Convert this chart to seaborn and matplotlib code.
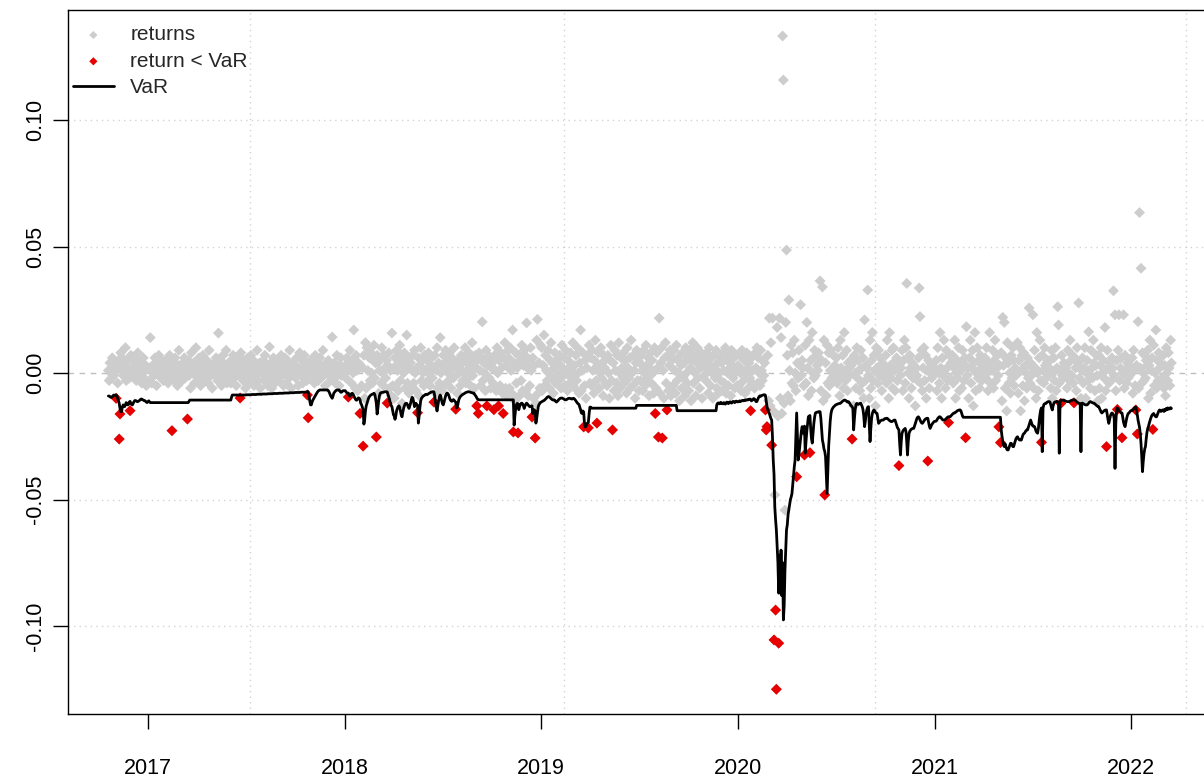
import numpy as np
import pandas as pd
import matplotlib
matplotlib.use("Agg")
import matplotlib.pyplot as plt
import seaborn as sns

# Daily returns and 1-day VaR, in thousandths; one row per month (21 sessions).
ret_2016 = [
    1, -3, 4, 0, -2, 6, 2, -1, 3,
    3, -10, 1, -4, 5, -26.1, -16.2, 8, 2, 6, -1, 4, 0, 10, -3, 2, 5, 1, -2, -14.9, 7,
    2, 6, -1, 3, 0, 5, -3, 1, 8, 2, -1, 4, 1, -4, 0, 6, -2, 1, 3, -5, 2,
]
var_2016 = [
    -9.1, -9.1, -9.3, -9.6, -9.6, -9.4, -9.0, -8.7, -8.8,
    -8.8, -8.7, -9.0, -10.0, -11.0, -12.0, -14.0, -15.3, -15.3, -13.5, -12.6, -13.0, -13.3, -12.5, -11.7, -12.0, -12.6, -12.4, -11.5, -11.2, -12.0,
    -12.4, -12.6, -12.0, -11.4, -10.9, -10.9, -11.0, -11.3, -11.3, -11.1, -10.9, -10.6, -10.3, -10.3, -10.5, -10.7, -10.9, -10.9, -11.2, -11.5, -11.7,
]

ret_2017 = [
    2, -3, 14, 1, -4, 3, 0, -1, 6, 2, -5, 4, 0, 7, -1, 2, -2, 5, 1, -3, 3,
    1, 5, -2, 3, -4, 0, 7, 2, -1, -22.8, 4, 1, -3, 6, 0, 2, -5, 3, 9, -1, 2,
    0, -3, 4, 2, 6, -2, 1, 3, -18.2, 5, -1, 2, -6, 8, 1, 0, 4, -4, 2, 10, -1,
    3, -2, 6, 0, -5, 2, 1, 7, -1, 4, -3, 2, 5, 0, -4, 9, 1, -1, 3, -6, 2,
    2, 4, -1, 6, 0, -3, 15.8, 3, -1, 5, -5, 1, 7, -2, 3, 0, 9, -4, 2, 4, -1,
    3, -4, 5, 0, 7, -2, 1, 4, -5, 2, 6, -1, 3, -9.9, 8, 0, 2, -3, 5, 1, -6,
    4, -2, 6, 1, -4, 2, 7, 0, -1, 5, -5, 2, 3, -1, 9, -3, 1, 4, -6, 2, 0,
    2, 5, -3, 7, 0, -1, 3, -5, 1, 10.3, -2, 4, -6, 2, 6, 0, -4, 1, 5, -1, 3,
    1, -3, 4, 7, -1, 2, -5, 0, 6, 2, -4, 5, 0, -2, 9, 3, -6, 1, 4, -1, 2,
    3, -2, 6, 1, -5, 2, 8, 0, -1, 5, -4, 2, 7, -1, 4, -3, -8.7, -17.7, 3, 1, 5,
    2, -1, 5, 0, -4, 7, 2, -1, 4, -3, 1, 6, -2, 3, 0, 9, -1, 2, -5, 2, 4,
    2, 5, -1, 3, -3, 0, 14.2, 1, -2, 4, -4, 2, 7, -1, 2, -5, 3, 6, -1, 2, 0,
]
var_2017 = [
    -11.0, -11.4, -11.7, -11.7, -11.7, -11.7, -11.7, -11.7, -11.7, -11.7, -11.7, -11.7, -11.7, -11.7, -11.7, -11.7, -11.7, -11.7, -11.7, -11.7, -11.7,
    -11.7, -11.7, -11.7, -11.7, -11.7, -11.7, -11.7, -11.7, -11.7, -11.7, -11.7, -11.7, -11.7, -11.7, -11.7, -11.7, -11.7, -11.7, -11.7, -11.7, -11.7,
    -11.7, -11.7, -11.7, -11.7, -11.7, -11.7, -11.7, -11.7, -11.7, -11.7, -11.2, -10.7, -10.7, -10.7, -10.7, -10.7, -10.7, -10.7, -10.7, -10.7, -10.7,
    -10.7, -10.7, -10.7, -10.7, -10.7, -10.7, -10.7, -10.7, -10.7, -10.7, -10.7, -10.7, -10.7, -10.7, -10.7, -10.7, -10.7, -10.7, -10.7, -10.7, -10.7,
    -10.7, -10.7, -10.7, -10.7, -10.7, -10.7, -10.7, -10.7, -10.7, -10.7, -10.7, -10.7, -10.7, -10.7, -10.7, -10.7, -10.7, -10.7, -10.7, -10.7, -10.7,
    -10.7, -10.7, -9.5, -8.7, -8.7, -8.7, -8.7, -8.7, -8.7, -8.7, -8.7, -8.7, -8.7, -8.7, -8.7, -8.7, -8.7, -8.7, -8.7, -8.7, -8.7,
    -8.6, -8.6, -8.6, -8.6, -8.6, -8.6, -8.6, -8.5, -8.5, -8.5, -8.5, -8.5, -8.5, -8.5, -8.4, -8.4, -8.4, -8.4, -8.4, -8.4, -8.4,
    -8.3, -8.3, -8.3, -8.3, -8.3, -8.3, -8.3, -8.2, -8.2, -8.2, -8.2, -8.2, -8.2, -8.2, -8.1, -8.1, -8.1, -8.1, -8.1, -8.1, -8.1,
    -8.0, -8.0, -8.0, -8.0, -8.0, -8.0, -8.0, -7.9, -7.9, -7.9, -7.9, -7.9, -7.9, -7.9, -7.8, -7.8, -7.8, -7.8, -7.8, -7.8, -7.8,
    -7.7, -7.7, -7.7, -7.7, -7.7, -7.7, -7.7, -7.6, -7.6, -7.6, -7.6, -7.6, -7.6, -7.6, -7.5, -7.5, -7.4, -7.4, -9.0, -11.0, -12.6,
    -12.6, -11.5, -10.7, -10.2, -9.6, -9.1, -8.5, -8.0, -7.5, -7.1, -6.9, -6.7, -6.7, -6.7, -6.7, -6.7, -6.7, -6.7, -6.7, -6.7, -6.7,
    -6.7, -7.0, -7.5, -8.3, -9.0, -9.5, -10.0, -9.2, -8.0, -7.6, -7.2, -6.9, -6.7, -6.7, -6.7, -6.7, -7.2, -7.6, -7.6, -7.3, -7.0,
]

ret_2018 = [
    3, -2, 6, 1, -9.5, 4, 9, 2, -4, 5, 0, 17, 3, -6, 7, 1, -7, 4, 2, -16, 3,
    -5, 2, -28.9, 7, -10, 12, -6, 10, 1, -5, 6, -3, 8, 0, -4, 5, 11, -2, 4, -25.3, 7,
    4, -8, 1, 6, -4, 10, 0, -5, 7, 2, -2, 5, -11.9, 3, 8, -6, 1, -9, 15.8, -5, 2,
    -10, 6, -5, 9, 1, -7, 4, 11, -3, 7, -12, 3, 0, 8, -6, 5, 15, -4, 2, -8, 6,
    4, -6, 1, 7, -4, 9, 0, -7, 2, -15.7, 6, -9, 3, 10, -3, 5, 0, -5, 7, 1, -4,
    5, -3, 8, 0, -5, 3, 6, -2, 2, -11.5, 7, -8, 1, 10, -6, 4, -4, 14, 0, -7, 3,
    7, -5, 2, 9, -4, 5, 0, -3, 8, 1, -6, 6, 3, -2, 10, 4, -14.3, 2, -8, 5, 0,
    3, -5, 7, 1, -3, 6, 0, 10, -4, 4, 1, -2, 8, 2, -5, 5, 12, -1, 3, -6, 7,
    2, -13, 5, -16, 8, 1, -5, 6, 20.2, -3, 4, 0, -7, 9, -13, 3, 7, -2, 5, -6, 2,
    4, -4, -14.5, 7, 1, -7, 10, 0, -13, 5, -5, 8, 2, -8, -16, 6, 12, -6, 3, -9, 9,
    6, -6, 10, 1, -8, 17, -23.3, 4, -11, 8, -4, 2, -23.7, 7, -9, 5, -3, 11, -7, 3, 9,
    7, -7, 19.8, 2, -9, 5, -5, 10, 1, -17.4, 6, -10, 3, -25.7, -12, 13, 21.2, -8, 4, -6, 11,
]
var_2018 = [
    -7.0, -7.4, -7.8, -8.0, -8.0, -8.8, -9.2, -8.7, -8.2, -8.0, -8.3, -9.0, -9.8, -10.3, -10.7, -10.7, -10.2, -9.8, -10.0, -10.5, -12.0,
    -12.5, -13.5, -14.5, -20.2, -18.5, -15.0, -13.0, -12.0, -11.0, -10.0, -9.4, -9.0, -8.7, -8.5, -8.4, -8.2, -8.0, -8.5, -10.0, -12.0, -16.2,
    -14.0, -11.0, -9.0, -8.0, -7.8, -7.7, -7.6, -7.6, -7.5, -7.4, -7.4, -7.4, -7.5, -8.5, -9.5, -10.5, -12.0, -12.8, -13.3, -15.0, -16.5,
    -17.0, -18.3, -17.0, -15.0, -14.0, -13.3, -13.0, -13.5, -15.0, -16.6, -17.3, -15.5, -14.0, -13.0, -12.2, -12.0, -12.0, -12.5, -13.5, -14.0, -13.0,
    -12.0, -10.5, -9.6, -10.0, -11.5, -13.3, -12.5, -12.0, -12.5, -12.8, -19.8, -17.0, -13.5, -11.0, -10.0, -9.6, -9.2, -9.0, -8.8, -8.5, -8.4,
    -8.6, -8.4, -8.2, -8.0, -7.8, -7.6, -7.5, -7.4, -7.4, -7.5, -9.0, -11.5, -13.5, -15.0, -13.0, -11.0, -9.5, -8.7, -9.5, -11.0, -12.2,
    -12.6, -11.5, -10.2, -9.0, -8.2, -7.9, -8.2, -8.8, -9.8, -10.6, -11.0, -11.2, -10.8, -10.5, -10.8, -11.2, -11.5, -13.8, -13.5, -12.0, -10.5,
    -9.8, -9.3, -9.0, -8.7, -8.5, -8.3, -8.1, -7.9, -7.7, -7.6, -7.5, -7.4, -7.4, -7.5, -7.6, -7.7, -7.8, -7.9, -7.9, -8.3, -8.8,
    -9.2, -9.8, -10.3, -10.6, -10.6, -10.6, -10.6, -10.6, -10.6, -10.6, -10.6, -10.6, -10.6, -10.6, -10.6, -10.6, -10.6, -10.6, -10.6, -10.6, -10.6,
    -10.6, -10.6, -10.6, -10.6, -10.6, -10.6, -10.6, -10.6, -10.6, -10.6, -10.6, -10.6, -10.6, -10.6, -10.6, -10.6, -10.6, -10.6, -10.6, -10.6, -10.6,
    -10.6, -10.6, -10.6, -10.6, -10.6, -10.6, -10.6, -20.6, -17.0, -14.0, -12.5, -12.0, -12.2, -14.5, -13.3, -12.5, -12.0, -11.9, -12.3, -13.0, -14.0,
    -13.0, -12.3, -11.9, -12.2, -12.6, -13.0, -13.3, -13.3, -13.0, -13.0, -16.0, -15.0, -14.5, -15.0, -19.8, -18.0, -15.5, -13.3, -12.5, -12.0, -11.6,
]

ret_2019 = [
    10, -7, 3, 15, -5, 7, 1, -3, 9, 0, -6, 5, 12, -2, 4, -8, 2, 8, -4, 5, -1,
    4, -3, 7, 0, -6, 11, 2, -1, 6, -5, 9, 1, -7, 5, -1, -4, 8, 3, -2, 12, 0,
    3, -6, 7, -3, 10, 0, -8, 4, 17, -7, 1, 8, -21.3, -5, 5, -10, 2, 7, -21.7, 11, -4,
    6, -5, 9, 1, -8, 5, 13, -3, -19.8, 3, 8, -6, 0, 10, -2, 4, -9, 7, 2, -4, 6,
    -5, 7, 0, -10, 5, 11, -3, -22.5, 4, -7, 9, 1, -4, 7, -9, 12, 0, -6, 6, 2, -2,
    8, -4, 5, 0, -8, 10, 2, -2, 6, -6, 13, 0, -5, 7, 1, -10, 4, 9, -3, 5, -7,
    4, -3, 7, 1, -7, 9, 0, -5, 11, 3, -2, 6, -9, 2, 8, -4, 5, 0, -8, 10, -16,
    -6, 8, 2, -25.3, 21.7, -8, 4, 10, -25.7, 1, -10, 6, 12, -4, -14.6, 7, -7, 3, 9, -9, 5,
    6, -5, 9, 1, -8, 11, -3, 5, 0, -11, 7, 3, -6, 8, -2, 4, -9, 10, 0, -4, 6,
    -7, 9, 2, -11, 5, 12, -4, 7, 0, -9, 4, 10, -2, 6, -6, 2, 8, -10, 3, 7, -1,
    5, -3, 8, 1, -8, 10, 3, -5, 6, 0, -10, 7, 2, -2, 9, -6, 4, -8, 0, 6, -3,
    4, -7, 8, 1, -4, 10, -8, 5, 0, -5, 7, 2, -9, 9, 3, -2, 6, -6, 0, 7, -5,
]
var_2019 = [
    -11.4, -11.2, -11.0, -10.9, -10.6, -10.3, -10.0, -9.6, -9.4, -9.3, -9.5, -9.8, -10.1, -10.4, -10.6, -10.7, -10.6, -10.8, -11.2, -11.5, -11.2,
    -10.9, -10.5, -10.2, -10.0, -9.9, -9.9, -10.0, -10.2, -10.4, -10.6, -10.6, -10.5, -10.3, -10.1, -10.0, -10.0, -10.1, -10.2, -10.3, -10.1, -10.0,
    -10.2, -10.6, -11.0, -11.5, -11.9, -12.2, -12.5, -13.5, -14.5, -15.8, -16.0, -15.0, -15.5, -20.0, -21.3, -21.0, -20.0, -19.8, -19.5, -16.0, -13.5,
    -13.5, -13.9, -13.9, -13.9, -13.9, -13.9, -13.9, -13.9, -13.9, -13.9, -13.9, -13.9, -13.9, -13.9, -13.9, -13.9, -13.9, -13.9, -13.9, -13.9, -13.9,
    -13.9, -13.9, -13.9, -13.9, -13.9, -13.9, -13.9, -13.9, -13.9, -13.9, -13.9, -13.9, -13.9, -13.9, -13.9, -13.9, -13.9, -13.9, -13.9, -13.9, -13.9,
    -13.9, -13.9, -13.9, -13.9, -13.9, -13.9, -13.9, -13.9, -13.9, -13.9, -13.9, -13.9, -13.9, -13.9, -13.9, -13.9, -13.9, -12.8, -12.8, -12.8, -12.8,
    -12.8, -12.8, -12.8, -12.8, -12.8, -12.8, -12.8, -12.8, -12.8, -12.8, -12.8, -12.8, -12.8, -12.8, -12.8, -12.8, -12.8, -12.8, -12.8, -12.8, -12.8,
    -12.8, -12.8, -12.8, -12.8, -12.8, -12.8, -12.8, -12.8, -12.8, -12.8, -12.8, -12.8, -12.8, -12.8, -12.8, -12.8, -12.8, -12.8, -12.8, -12.8, -12.8,
    -12.8, -12.8, -12.8, -12.8, -12.8, -12.8, -14.9, -14.9, -14.9, -14.9, -14.9, -14.9, -14.9, -14.9, -14.9, -14.9, -14.9, -14.9, -14.9, -14.9, -14.9,
    -14.9, -14.9, -14.9, -14.9, -14.9, -14.9, -14.9, -14.9, -14.9, -14.9, -14.9, -14.9, -14.9, -14.9, -14.9, -14.9, -14.9, -14.9, -14.9, -14.9, -14.9,
    -14.9, -14.9, -14.9, -14.9, -14.9, -14.9, -14.9, -14.9, -14.9, -14.9, -14.9, -14.9, -14.9, -14.9, -14.9, -12.5, -12.0, -11.8, -12.2, -12.0, -11.6,
    -12.1, -11.9, -12.2, -11.7, -11.9, -12.3, -11.8, -11.5, -11.9, -12.1, -11.6, -11.4, -11.7, -11.9, -11.5, -11.2, -11.4, -11.7, -11.3, -11.1, -11.4,
]

ret_2020 = [
    3, -5, 7, 0, -7, 9, 1, -3, 5, -8, 0, 8, 2, -6, 4, -2, -14.9, 6, -4, 1, 7,
    -6, 8, 2, 10, -4, 6, 0, -5, 9, 1, -3, 5, -1, 4, -14.6, -22.5, -21.2, 7, -11, 21.7, -13,
    12, -28.5, 21.7, -15, -105.5, -48.2, -93.7, -125, 18, -17, -106.8, 21.7, -10, 14, -16, 133.2, 115.8, -12, -54.2, 20, 48.6,
    7, -9, 28.9, 1, -11, 11, -4, 8, -5, 13, 0, -7, -41, 4, -2, 9, 3, 27, -1, 5, 2,
    -5, -32.4, 11, -4, 20, 2, -9, 13, -31.5, 5, -7, 16, 0, -2, 9, -1, 7, 3, 1, 8, 4,
    36.4, -7, 5, 34, -11, 13, -48.2, 4, -9, 11, -4, 8, -5, 1, 9, -2, 0, 7, -1, 3, 2,
    6, -4, 10, 1, -9, 13, 2, -2, 7, -6, 16, 0, -3, 9, -7, 4, 2, -1, 5, 3, -26.1,
    4, -13, 7, 0, -6, 10, -2, 5, 1, -7, 9, 2, -4, 6, -10, 21, -3, 3, 2, 32.8, -1,
    -10, 13, -6, 5, 16, -3, 7, 1, -13, 10, 2, -4, 9, -1, 6, 0, -7, 4, 3, -2, 2,
    7, -4, 13, 0, -10, 16, 3, -2, 9, -6, 10, 1, -7, 5, 6, -3, 2, -36.6, 4, -1, 2,
    9, -7, 5, 13, -4, 10, 35.4, 6, 0, -10, 7, 2, -6, 4, -2, 3, 1, -13, 2, -1, -3,
    6, 33.6, 22.3, -4, 9, -7, 2, 10, -3, 7, -10, 1, -34.8, 5, -6, 4, 0, -2, 3, -1, 2,
]
var_2020 = [
    -11.4, -11.2, -11.0, -11.3, -11.1, -10.9, -10.8, -11.0, -10.8, -10.6, -10.8, -10.7, -10.5, -10.6, -10.4, -10.3, -10.4, -11.0, -10.8, -10.5, -10.1,
    -10.3, -10.8, -11.3, -11.3, -10.5, -9.8, -9.3, -9.0, -9.2, -9.0, -8.8, -8.7, -8.6, -8.6, -8.8, -11.0, -13.3, -14.5, -15.5, -16.0, -17.0,
    -18.0, -18.6, -25.0, -34.4, -40.0, -53.0, -58.0, -62.0, -68.7, -75.0, -87.0, -72.0, -87.0, -70.0, -88.0, -75.0, -97.6, -92.0, -78.0, -70.0, -62.0,
    -60.0, -56.0, -54.0, -52.0, -50.0, -49.0, -47.6, -44.0, -40.0, -37.0, -34.4, -25.0, -15.8, -25.0, -34.4, -32.0, -29.0, -26.0, -23.0, -21.2, -22.0,
    -24.0, -21.0, -31.7, -27.0, -23.0, -20.0, -17.3, -17.0, -16.8, -22.0, -26.0, -27.7, -24.0, -20.0, -17.5, -15.8, -15.6, -15.5, -15.4, -15.3, -15.5,
    -15.3, -18.0, -22.0, -26.5, -28.0, -30.0, -31.0, -33.0, -40.0, -47.6, -38.0, -29.0, -24.0, -19.0, -16.0, -14.6, -14.0, -13.5, -13.2, -12.9, -12.6,
    -12.5, -12.3, -12.2, -12.1, -12.0, -12.0, -11.7, -11.4, -11.1, -10.9, -10.7, -10.7, -10.9, -11.2, -11.5, -11.3, -11.5, -12.0, -12.6, -13.0, -13.3,
    -14.0, -22.5, -18.0, -14.5, -12.5, -12.0, -12.2, -12.4, -12.2, -12.0, -11.9, -12.6, -13.3, -14.5, -17.0, -21.2, -19.0, -16.0, -14.5, -13.5, -13.3,
    -20.0, -27.1, -22.0, -18.0, -16.0, -15.0, -14.6, -15.0, -15.5, -15.8, -16.0, -18.0, -19.9, -19.5, -19.0, -18.8, -18.6, -18.6, -18.6, -18.3, -18.0,
    -18.0, -17.9, -17.9, -18.2, -18.5, -18.8, -19.0, -19.2, -19.2, -19.0, -18.8, -18.6, -18.6, -19.5, -20.5, -21.5, -22.0, -22.5, -28.0, -32.4, -27.0,
    -23.8, -23.0, -22.5, -22.2, -21.9, -23.0, -27.0, -32.4, -27.0, -23.8, -23.0, -22.5, -22.2, -22.0, -21.9, -21.9, -21.0, -20.0, -19.0, -18.0, -17.5,
    -17.3, -17.8, -18.5, -19.2, -19.7, -19.9, -19.5, -19.0, -18.5, -18.2, -18.0, -17.9, -17.9, -19.5, -21.0, -21.9, -21.2, -20.5, -20.0, -19.6, -19.2,
]

ret_2021 = [
    5, -7, 10, 0, -4, 16, 2, -10, 6, -1, 13, 1, -6, 9, 2, -3, -19.6, 7, -2, 4, 3,
    7, -4, 2, 13, -10, 0, 5, -2, 10, -7, 3, 1, -6, 9, 4, -3, 6, -25.6, 18.3, -1, 2,
    -10, 6, 13, -4, 2, 9, -13, 4, 16, -7, 0, 10, -2, 5, -6, 7, 2, -3, 3, 1, -1,
    6, -2, 10, 0, -7, 4, 16, -4, 2, 1, 9, -6, 5, 13, -3, 2, 7, -1, -21.3, 3, -27.5,
    8, -11, 22, 3, 20, -6, 6, -15, 12, 4, -4, 0, -8, 7, -2, 10, 5, -5, 2, -1, 1,
    12, -8, 5, 10, -15, 1, 7, -5, 8, -11, 3, 0, -6, 6, -2, 25.7, -4, 4, -1, 2, 23,
    -6, 9, 2, -10, 16, 0, -7, 6, 13, -3, -27.4, 7, 1, -4, 10, 3, -2, 4, 5, -1, 2,
    5, -6, 9, -10, 0, 6, -3, 10, -7, 2, 26.2, 19, -4, 1, -12.0, 7, -1, -2, 4, 3, 2,
    3, -6, 9, 0, -3, 13, 5, -1, 7, -4, -11.8, 6, 2, -7, 10, 4, 27.7, -2, 2, -10, 1,
    6, -4, 2, 10, -10, 0, 5, -3, 16.3, 1, -6, 9, 2, -2, 13, 4, -7, 3, 7, -1, -11,
    7, -6, 3, 10, -10, 0, 5, -2, 18, -7, -29.1, 9, 2, -4, 4, 1, -3, 6, 2, 32.5, -1,
    23, -7, 5, -14.4, 9, 23, -3, 2, 6, -25.6, 0, 23, -6, 7, 1, -4, 4, -2, 3, -1, 2,
]
var_2021 = [
    -19.0, -18.5, -18.0, -17.6, -17.3, -17.3, -17.6, -18.0, -18.4, -18.6, -18.6, -18.6, -18.3, -18.0, -17.7, -17.4, -17.3, -17.3, -17.3, -17.0, -16.6,
    -16.3, -16.0, -15.8, -15.8, -15.5, -15.3, -15.0, -14.8, -14.7, -14.6, -14.6, -15.0, -16.0, -17.0, -17.5, -17.5, -17.5, -17.5, -17.5, -17.5, -17.5,
    -17.5, -17.5, -17.5, -17.5, -17.5, -17.5, -17.5, -17.5, -17.5, -17.5, -17.5, -17.5, -17.5, -17.5, -17.5, -17.5, -17.5, -17.5, -17.5, -17.5, -17.5,
    -17.5, -17.5, -17.5, -17.5, -17.5, -17.5, -17.5, -17.5, -17.5, -17.5, -17.5, -17.5, -17.5, -17.5, -17.5, -17.5, -17.5, -17.5, -17.5, -17.5, -17.5,
    -22.5, -25.0, -27.0, -28.5, -29.1, -28.0, -29.0, -30.0, -30.4, -30.4, -29.5, -28.5, -27.8, -27.8, -28.5, -29.1, -29.1, -28.0, -27.0, -26.0, -25.5,
    -25.2, -25.8, -26.3, -26.5, -26.5, -26.5, -25.5, -24.5, -24.0, -23.8, -23.3, -22.8, -22.5, -22.5, -21.5, -20.5, -19.5, -18.6, -19.5, -20.5, -21.0,
    -21.0, -21.2, -22.0, -23.0, -23.5, -23.8, -22.0, -19.0, -16.5, -14.6, -13.8, -31.1, -14.0, -12.5, -12.2, -12.0, -12.0, -11.6, -11.4, -11.3, -11.3,
    -11.5, -12.5, -13.8, -14.6, -13.0, -12.0, -11.5, -11.4, -11.3, -11.2, -11.4, -12.0, -31.7, -11.5, -10.8, -10.8, -10.7, -10.7, -10.7, -10.9, -11.1,
    -11.2, -11.3, -11.3, -11.3, -11.3, -11.1, -10.9, -10.8, -10.7, -10.6, -10.6, -10.7, -10.9, -11.2, -11.5, -11.7, -11.9, -12.0, -12.2, -31.1, -12.0,
    -11.9, -12.1, -12.3, -12.5, -12.6, -12.6, -12.6, -12.3, -11.9, -11.5, -11.3, -11.4, -11.6, -11.8, -11.9, -11.9, -12.2, -12.5, -12.8, -13.0, -13.3,
    -13.3, -14.0, -14.8, -15.4, -15.8, -15.5, -15.2, -14.9, -14.7, -14.6, -14.6, -16.5, -18.5, -19.9, -18.5, -17.0, -16.2, -15.8, -16.0, -16.5, -18.0,
    -37.7, -20.0, -14.5, -13.8, -14.2, -14.8, -15.2, -15.5, -15.8, -15.8, -17.5, -19.5, -20.5, -21.2, -19.5, -18.0, -16.8, -16.0, -15.8, -15.4, -15.0,
]

ret_2022 = [
    6, -8, 9, 1, -5, -14.6, 3, -24.1, 20.3, -6, 63.4, 2, 41.4, -4, 8, 0, -3, 7, -2, 5, 3,
    9, -10, 3, 13, -8, 1, 6, -22.3, 11, -5, 0, 17, -6, 5, -3, 8, 2, -4, 7, -2, 3,
    7, -6, 3, -9, 10, 0, -3, 8, 2, -5, 13, 4,
]
var_2022 = [
    -14.8, -14.6, -14.2, -13.8, -13.5, -13.5, -15.0, -16.5, -18.6, -20.0, -21.5, -24.0, -27.8, -33.0, -39.0, -35.0, -32.0, -30.0, -29.1, -26.0, -23.5,
    -22.0, -21.2, -20.0, -19.0, -18.0, -17.2, -16.6, -16.3, -16.0, -16.5, -17.0, -17.3, -17.3, -16.5, -15.8, -15.0, -14.6, -14.8, -15.2, -14.9, -14.6,
    -14.6, -15.2, -14.4, -14.8, -14.0, -14.5, -13.8, -14.3, -13.9, -14.2, -13.7, -14.0,
]

# first and last session of each block of data
spans = [
    ("2016-10-19", "2016-12-30", ret_2016, var_2016),
    ("2017-01-02", "2017-12-29", ret_2017, var_2017),
    ("2018-01-02", "2018-12-31", ret_2018, var_2018),
    ("2019-01-02", "2019-12-31", ret_2019, var_2019),
    ("2020-01-02", "2020-12-31", ret_2020, var_2020),
    ("2021-01-04", "2021-12-31", ret_2021, var_2021),
    ("2022-01-03", "2022-03-17", ret_2022, var_2022),
]

year_ticks = ["2017", "2018", "2019", "2020", "2021", "2022"]
y_ticks = [-0.10, -0.05, 0.00, 0.05, 0.10]
grid_dates = ["2017-07-10", "2019-02-12", "2020-09-12", "2022-04-13"]

frames = []
for start, end, r, v in spans:
    assert len(r) == len(v), (start, len(r), len(v))
    frames.append(pd.DataFrame({
        "date": pd.date_range(start, end, periods=len(r)),
        "ret": np.asarray(r, dtype=float) / 1000.0,
        "VaR": np.asarray(v, dtype=float) / 1000.0,
    }))
df = pd.concat(frames, ignore_index=True)
hits = df[df["ret"] < df["VaR"]]

sns.set_style("white")
plt.rcParams["font.family"] = ["Liberation Sans", "DejaVu Sans"]

W, H = 1204, 780
fig = plt.figure(figsize=(W / 100, H / 100), dpi=100)
ax = fig.add_axes([68 / W, 66 / H, 1147 / W, 704 / H])

GRID = "#d3d3d3"
for d in grid_dates:
    ax.axvline(pd.Timestamp(d), color=GRID, lw=1.0, ls=(0, (1, 3)), zorder=0)
for yv in [-0.10, -0.05, 0.05, 0.10]:
    ax.axhline(yv, color=GRID, lw=1.0, ls=(0, (1, 3)), zorder=0)
ax.axhline(0.0, color="#bebebe", lw=1.0, ls=(0, (4, 4)), zorder=0.5)

sns.scatterplot(data=df, x="date", y="ret", marker="D", s=31, color="#cdcdcd",
                edgecolor="none", linewidth=0, label="returns", ax=ax, zorder=2)
sns.scatterplot(data=hits, x="date", y="ret", marker="D", s=31, color="#e60000",
                edgecolor="none", linewidth=0, label="return < VaR", ax=ax, zorder=3)
sns.lineplot(data=df, x="date", y="VaR", color="black", linewidth=2.0,
             estimator=None, sort=False, label="VaR", ax=ax, zorder=4)

ax.set_xlim(pd.Timestamp("2016-08-05"), pd.Timestamp("2022-06-06"))
ax.set_ylim(-0.13478, 0.14348)
ax.set_xticks([pd.Timestamp(f"{y}-01-01") for y in year_ticks])
ax.set_xticklabels(year_ticks)
ax.set_yticks(y_ticks)
ax.set_yticklabels([f"{t:.2f}" for t in y_ticks])
ax.set_xlabel("")
ax.set_ylabel("")

for s in ax.spines.values():
    s.set_visible(True)
    s.set_color("black")
    s.set_linewidth(1.0)

ax.tick_params(axis="both", which="major", direction="out", length=11, width=1.0,
               colors="black", labelsize=15.5, bottom=True, left=True,
               top=False, right=False)
ax.tick_params(axis="x", pad=21)
ax.tick_params(axis="y", pad=4.5)
plt.setp(ax.get_yticklabels(), rotation=90, va="center")

ax.legend(loc="upper left", bbox_to_anchor=(0.0044, 0.978), frameon=False,
          fontsize=15, markerscale=0.75, handlelength=1.95, handletextpad=0.8,
          labelspacing=0.35, borderpad=0, borderaxespad=0)

fig.savefig("out.png", dpi=100, facecolor="white")
